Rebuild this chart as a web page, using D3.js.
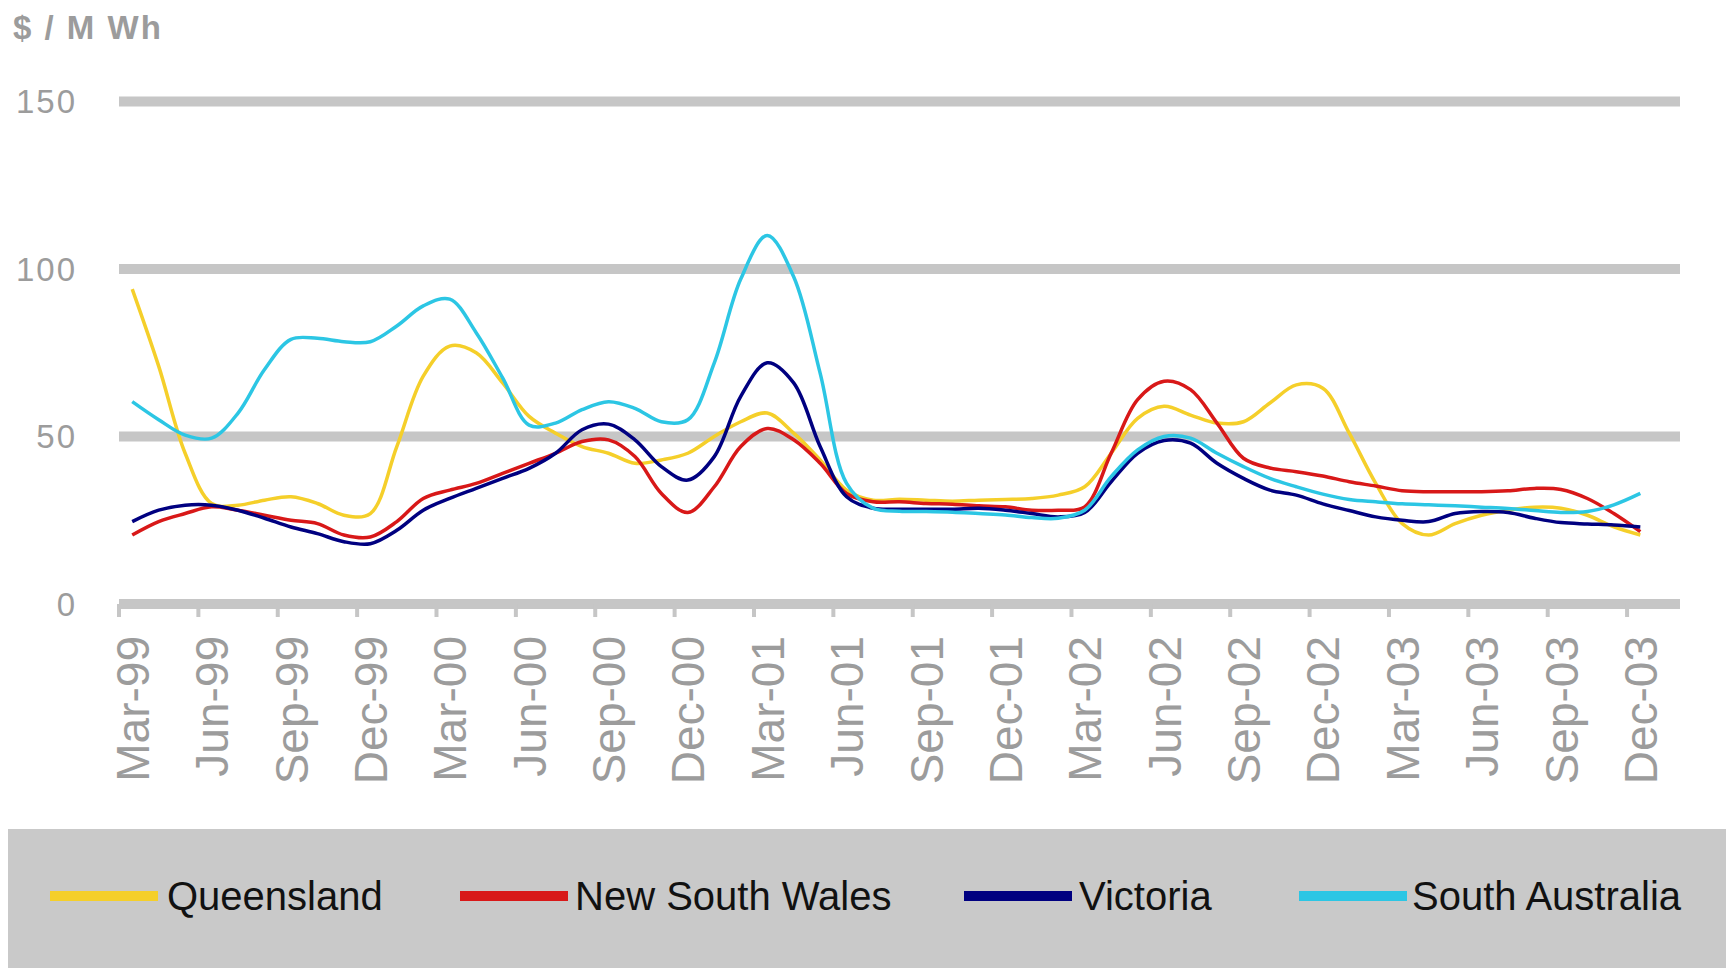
<!DOCTYPE html>
<html>
<head>
<meta charset="utf-8">
<script src="https://cdn.jsdelivr.net/npm/d3@7"></script>
<style>
  html, body { margin: 0; padding: 0; background: #ffffff; }
  svg { display: block; }
</style>
</head>
<body>
<svg id="chart" width="1726" height="968"></svg>
<script>
// Monthly average spot prices by NEM region, $/MWh, Mar-99 to Dec-03
const monthAbbr = ["Jan","Feb","Mar","Apr","May","Jun","Jul","Aug","Sep","Oct","Nov","Dec"];
// 59 monthly categories, Mar-99 .. Jan-04 (last one carries no data)
const categories = d3.range(59).map(k => {
  const m = (2 + k) % 12;
  const yr = 1999 + Math.floor((2 + k) / 12);
  return monthAbbr[m] + "-" + String(yr % 100).padStart(2, "0");
});

const tickLabels = ["Mar-99","Jun-99","Sep-99","Dec-99","Mar-00","Jun-00","Sep-00","Dec-00",
  "Mar-01","Jun-01","Sep-01","Dec-01","Mar-02","Jun-02","Sep-02","Dec-02",
  "Mar-03","Jun-03","Sep-03","Dec-03"];

const yTicks = [0, 50, 100, 150];

const queensland = [94, 71, 45, 30, 29.5, 31, 32, 30, 26.5, 27, 47, 68, 77, 75, 66, 56, 51, 47, 45, 42,
  43, 45, 50, 54.4, 57, 51, 43, 34, 31, 31.3, 31, 30.7, 31, 31.2, 31.5, 32.5, 35, 45, 55.4, 59,
  56.4, 54, 54.4, 60, 65.4, 64.4, 51, 36, 24, 20.6, 24, 26.5, 28, 28.9, 28.6, 26.5, 23, 20.6];

const newSouthWales = [20.6, 24.6, 27, 29, 28, 26.5, 25, 24, 20.6, 20, 24.6, 31.5, 34, 36, 39, 42, 45, 48.5, 49, 44,
  33, 27.3, 35, 47, 52.4, 49, 42, 33, 30.5, 30.5, 30, 29.8, 29.3, 29, 28, 28, 29, 45, 61, 66.5,
  64, 54, 43.5, 40.6, 39.5, 38.2, 36.5, 35.2, 33.8, 33.5, 33.5, 33.5, 33.8, 34.5, 34.2, 31.5, 27, 21.6];

const victoria = [24.6, 28, 29.5, 29.5, 28, 25.6, 23, 21, 18.6, 18, 22, 28, 31.5, 34.5, 37.5, 40.5, 45, 52, 53.7, 49,
  41, 37, 44, 62, 72, 66, 47, 32, 28.6, 28.3, 28.3, 28.3, 28.6, 28, 27, 26, 27.3, 36.5, 45, 48.8,
  48, 42, 37.5, 34, 32.5, 29.9, 27.9, 26, 25, 24.6, 27, 27.6, 27.3, 25.6, 24.3, 23.9, 23.6, 23];

const southAustralia = [60.4, 55, 50.4, 49.5, 57, 70, 79, 79.3, 78.3, 78.3, 83, 89, 91, 81, 67.5, 53.4, 54, 58, 60.4, 58.4,
  54.4, 55, 72, 97, 110, 97.7, 68.9, 36, 28.6, 27.7, 27.6, 27.4, 27, 26.6, 25.8, 25.6, 28, 38, 46, 50,
  49.5, 45, 41, 37.5, 35, 32.8, 31.2, 30.5, 29.9, 29.6, 29.3, 28.9, 28.5, 27.9, 27.3, 27.6, 29.6, 33];

const seriesNames = ["Queensland", "New South Wales", "Victoria", "South Australia"];
const seriesValues = [queensland, newSouthWales, victoria, southAustralia];
const seriesColors = ["#f5cf2a", "#d81818", "#000080", "#2cc6e4"];

const svg = d3.select("#chart");
const gridColor = "#c6c6c6";
const labelColor = "#9c9c9c";

const x = d3.scaleBand().domain(categories).range([119, 1680]).padding(0);
const y = d3.scaleLinear().domain([0, 150]).range([604, 101.5]);
const cx = c => x(c) + x.bandwidth() / 2;

// unit title
svg.append("text")
  .attr("x", 13).attr("y", 39)
  .attr("font-family", "Liberation Sans, Arial, sans-serif")
  .attr("font-size", 33).attr("font-weight", "bold")
  .attr("letter-spacing", 2)
  .attr("fill", labelColor)
  .text("$ / M Wh");

// horizontal gridlines (the zero line doubles as the category axis)
svg.append("g").selectAll("line")
  .data(yTicks)
  .join("line")
  .attr("x1", 119).attr("x2", 1680)
  .attr("y1", d => y(d)).attr("y2", d => y(d))
  .attr("stroke", gridColor).attr("stroke-width", 10);

// value axis labels
svg.append("g").selectAll("text")
  .data(yTicks)
  .join("text")
  .attr("x", 77).attr("y", d => y(d))
  .attr("dy", "0.36em")
  .attr("text-anchor", "end")
  .attr("font-family", "Liberation Sans, Arial, sans-serif")
  .attr("font-size", 33)
  .attr("letter-spacing", 2)
  .attr("fill", labelColor)
  .text(d => d);

// category axis: tick marks at quarter boundaries, rotated labels
const xAxis = d3.axisBottom(x)
  .tickValues(tickLabels)
  .tickSize(0)
  .tickFormat(d => d);
const gx = svg.append("g").attr("transform", `translate(0,${y(0)})`).call(xAxis);
gx.select(".domain").remove();
gx.selectAll(".tick line").remove();
gx.selectAll(".tick").append("line")
  .attr("x1", -x.bandwidth() / 2).attr("x2", -x.bandwidth() / 2)
  .attr("y1", 0).attr("y2", 13)
  .attr("stroke", gridColor).attr("stroke-width", 4);
gx.selectAll(".tick text")
  .attr("transform", "rotate(-90)")
  .attr("x", -32).attr("y", 0)
  .attr("dy", "0.36em")
  .attr("text-anchor", "end")
  .attr("font-family", "Liberation Sans, Arial, sans-serif")
  .attr("font-size", 46)
  .attr("fill", labelColor);

// series lines
const line = d3.line()
  .x((d, i) => cx(categories[i]))
  .y(d => y(d))
  .curve(d3.curveCatmullRom.alpha(0.5));

svg.append("g").selectAll("path")
  .data(seriesValues)
  .join("path")
  .attr("d", d => line(d))
  .attr("fill", "none")
  .attr("stroke", (d, i) => seriesColors[i])
  .attr("stroke-width", 3.5)
  .attr("stroke-linejoin", "round");

// legend band
svg.append("rect")
  .attr("x", 8).attr("y", 829).attr("width", 1718).attr("height", 139)
  .attr("fill", "#c9c9c9");

const legendSwatchX = [50, 460, 964, 1299];
const legendTextX = [167, 575, 1079, 1412];
const legend = svg.append("g").selectAll("g")
  .data(seriesNames)
  .join("g");
legend.append("line")
  .attr("x1", (d, i) => legendSwatchX[i]).attr("x2", (d, i) => legendSwatchX[i] + 108)
  .attr("y1", 896).attr("y2", 896)
  .attr("stroke", (d, i) => seriesColors[i]).attr("stroke-width", 10);
legend.append("text")
  .attr("x", (d, i) => legendTextX[i]).attr("y", 910)
  .attr("font-family", "Liberation Sans, Arial, sans-serif")
  .attr("font-size", 40)
  .attr("fill", "#111111")
  .text(d => d);
</script>
</body>
</html>
